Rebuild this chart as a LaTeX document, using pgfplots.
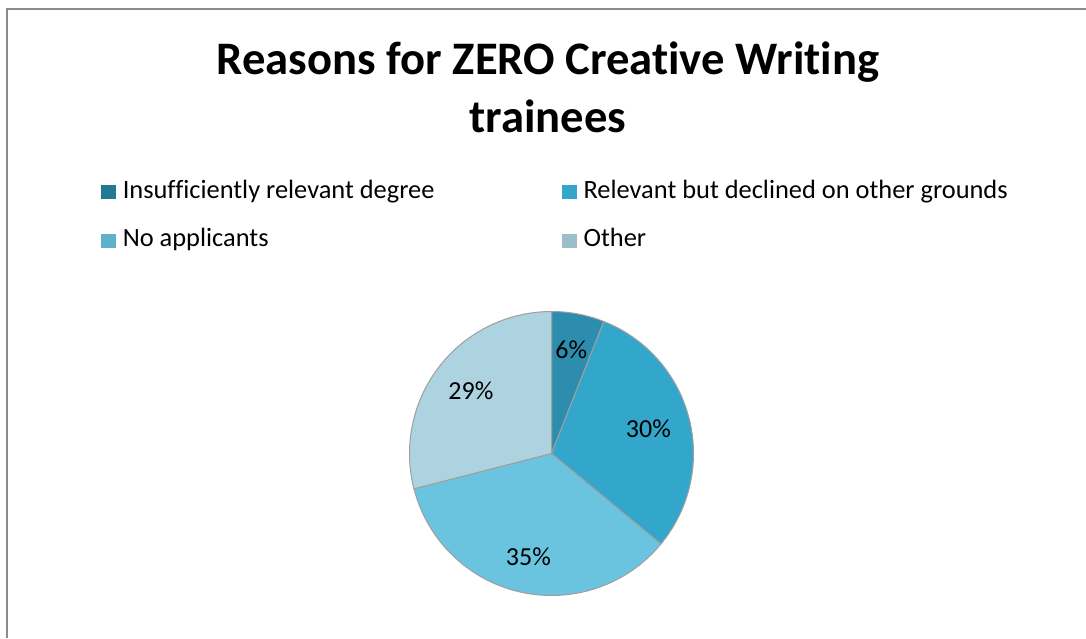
\documentclass[border=0pt]{standalone}
\usepackage{pgfplots}
\pgfplotsset{compat=1.18}
\usepackage{pgfplotstable}
\usepackage{fontspec}
\setmainfont{Carlito}[Ligatures=NoCommon]

\definecolor{sliceA}{HTML}{2C8DAE}
\definecolor{sliceB}{HTML}{33A6CC}
\definecolor{sliceC}{HTML}{6AC4DF}
\definecolor{sliceD}{HTML}{ADD2E0}
\definecolor{frame}{HTML}{8C8C8C}

% share of each reason, in percent
\pgfplotstableread{
reason value
A 6
B 30
C 35
D 29
}\piedata

\pgfplotstablegetelem{0}{value}\of\piedata \let\vA\pgfplotsretval
\pgfplotstablegetelem{1}{value}\of\piedata \let\vB\pgfplotsretval
\pgfplotstablegetelem{2}{value}\of\piedata \let\vC\pgfplotsretval
\pgfplotstablegetelem{3}{value}\of\piedata \let\vD\pgfplotsretval

% slice boundaries, clockwise from 12 o'clock
\pgfmathsetmacro\aA{90}
\pgfmathsetmacro\aB{\aA-3.6*\vA}
\pgfmathsetmacro\aC{\aB-3.6*\vB}
\pgfmathsetmacro\aD{\aC-3.6*\vC}
\pgfmathsetmacro\aE{\aD-3.6*\vD}
\pgfmathsetmacro\mA{(\aA+\aB)/2}
\pgfmathsetmacro\mB{(\aB+\aC)/2}
\pgfmathsetmacro\mC{(\aC+\aD)/2}
\pgfmathsetmacro\mD{(\aD+\aE)/2}

\newcommand\slice[3]{%
  \fill[#3, draw=gray!75, line width=0.5pt] (axis cs:551.5,184.5) -- +(#1:71pt)
    arc[start angle=#1, end angle=#2, radius=71pt] -- cycle;}
\pgfplotsset{legsq/.style={legend image code/.code={\fill[#1] (0pt,-3.25pt) rectangle (7pt,3.25pt);}}}

\begin{document}
\begin{tikzpicture}
\useasboundingbox (0,0) rectangle (543pt,319pt);
\begin{axis}[
  x=0.5pt, y=0.5pt,
  xmin=0, xmax=1086, ymin=0, ymax=638,
  hide axis, clip=false,
  title={Reasons for ZERO Creative Writing\\trainees},
  title style={at={(axis cs:548,585)}, anchor=north, inner sep=0pt,
    align=center, font=\bfseries\fontsize{23.3}{29}\selectfont},
  legend columns=2,
  legend cell align=left,
  legend style={draw=none, fill=none, at={(axis cs:101,457)}, anchor=north west,
    inner sep=0pt, outer sep=0pt, row sep=13.5pt, column sep=0pt,
    font=\fontsize{13.2}{15}\selectfont,
    nodes={inner xsep=3.5pt, inner ysep=0pt, text height=8.5pt, text depth=2.5pt}},
]
\draw[frame, line width=1pt] (axis cs:7,0) -- (axis cs:7,629) -- (axis cs:1086,629);

\addlegendimage{legsq=sliceA!85!black}
\addlegendentry{\makebox[216pt][l]{Insufficiently relevant degree}}
\addlegendimage{legsq=sliceB}
\addlegendentry{Relevant but declined on other grounds}
\addlegendimage{legsq=sliceC!90!black}
\addlegendentry{\makebox[216pt][l]{No applicants}}
\addlegendimage{legsq=sliceD!90!black}
\addlegendentry{Other}

\slice{\aA}{\aB}{sliceA}
\slice{\aB}{\aC}{sliceB}
\slice{\aC}{\aD}{sliceC}
\slice{\aD}{\aE}{sliceD}

\begin{scope}[font=\fontsize{13}{15}\selectfont]
\node at ([shift={(\mA:53pt)}]axis cs:551.5,184.5) {\vA\%};
\node at ([shift={(\mB:50pt)}]axis cs:551.5,184.5) {\vB\%};
\node at ([shift={(\mC:53pt)}]axis cs:551.5,184.5) {\vC\%};
\node at ([shift={(\mD:51pt)}]axis cs:551.5,184.5) {\vD\%};
\end{scope}
\end{axis}
\end{tikzpicture}
\end{document}
